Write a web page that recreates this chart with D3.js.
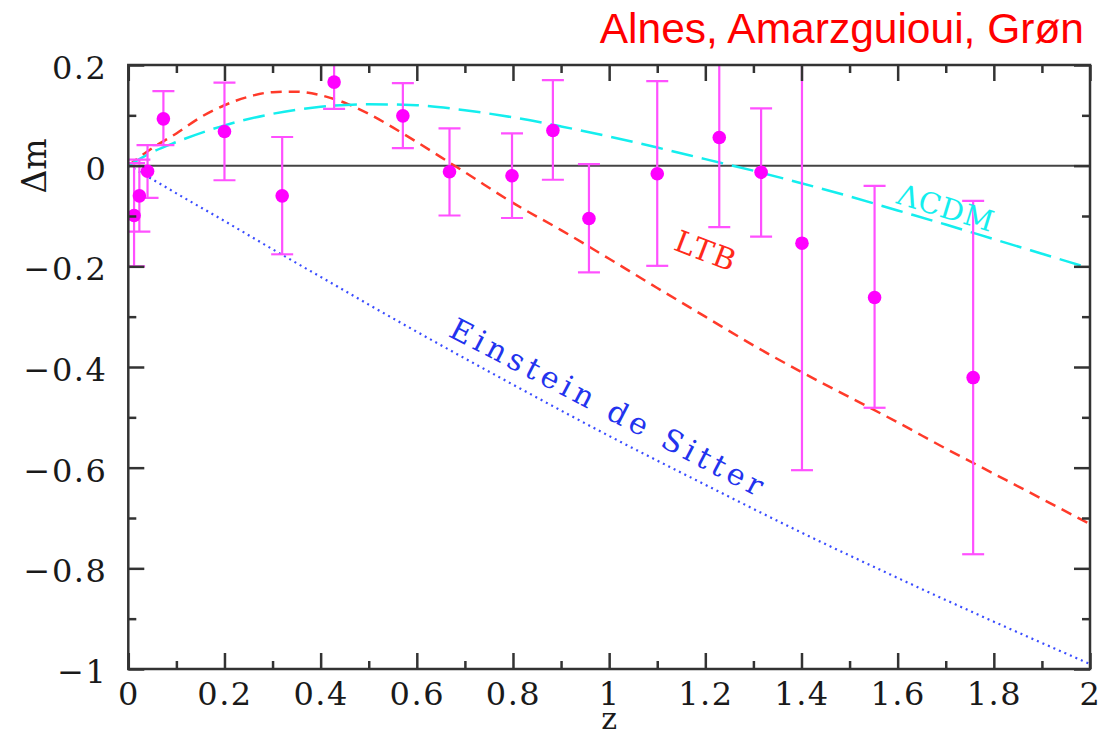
<!DOCTYPE html>
<html>
<head>
<meta charset="utf-8">
<script src="https://cdn.jsdelivr.net/npm/d3@7"></script>
<style>
  body { margin: 0; background: #fff; }
  svg { display: block; }
</style>
</head>
<body>
<svg id="drawing_region"></svg>
<script>
// supernova points: redshift, Δm, and error bar ends
const zData   = [0.012, 0.023, 0.040, 0.073, 0.200, 0.320, 0.428, 0.571, 0.668, 0.798, 0.883, 0.958, 1.100, 1.229, 1.316, 1.401, 1.552, 1.757];
const dmData  = [-0.099, -0.060, -0.011, 0.093, 0.068, -0.060, 0.166, 0.099, -0.012, -0.020, 0.070, -0.105, -0.016, 0.056, -0.013, -0.154, -0.262, -0.421];
const errHigh = [0.005, 0.012, 0.041, 0.148, 0.165, 0.057, 0.230, 0.164, 0.074, 0.064, 0.170, 0.003, 0.168, 0.260, 0.114, 0.300, -0.040, -0.070];
const errLow  = [-0.200, -0.131, -0.064, 0.041, -0.029, -0.176, 0.113, 0.035, -0.099, -0.104, -0.028, -0.212, -0.199, -0.122, -0.141, -0.605, -0.481, -0.772];

// model curves
const zLcdm  = [0, 0.05, 0.1, 0.2, 0.3, 0.4, 0.5, 0.6, 0.7, 0.8, 0.9, 1.0, 1.1, 1.2, 1.3, 1.4, 1.5, 1.6, 1.7, 1.8, 1.9, 2.0];
const dmLcdm = [0, 0.027, 0.047, 0.080, 0.103, 0.117, 0.122, 0.120, 0.110, 0.096, 0.078, 0.058, 0.036, 0.013, -0.010, -0.035, -0.061, -0.089, -0.117, -0.146, -0.175, -0.204];

const zLtb  = [0, 0.05, 0.1, 0.15, 0.2, 0.25, 0.3, 0.35, 0.4, 0.45, 0.5, 0.55, 0.6, 0.65, 0.7, 0.8, 0.9, 1.0, 1.1, 1.2, 1.3, 1.4, 1.5, 1.6, 1.7, 1.8, 1.9, 2.0];
const dmLtb = [0, 0.035, 0.064, 0.096, 0.120, 0.137, 0.146, 0.147, 0.140, 0.125, 0.103, 0.076, 0.047, 0.017, -0.013, -0.074, -0.128, -0.185, -0.243, -0.300, -0.357, -0.410, -0.460, -0.510, -0.562, -0.612, -0.662, -0.712];

const zEds  = [0, 0.05, 0.1, 0.2, 0.3, 0.4, 0.5, 0.6, 0.8, 1.0, 1.2, 1.4, 1.6, 1.8, 2.0];
const dmEds = [0, -0.027, -0.055, -0.110, -0.166, -0.221, -0.276, -0.330, -0.435, -0.537, -0.634, -0.729, -0.819, -0.906, -0.990];

// ticks
const xMajor = [0, 0.2, 0.4, 0.6, 0.8, 1, 1.2, 1.4, 1.6, 1.8, 2];
const xMinor = [0.1, 0.3, 0.5, 0.7, 0.9, 1.1, 1.3, 1.5, 1.7, 1.9];
const xTickLabels = ["0", "0.2", "0.4", "0.6", "0.8", "1", "1.2", "1.4", "1.6", "1.8", "2"];
const yMajor = [0.2, 0, -0.2, -0.4, -0.6, -0.8, -1];
const yMinor = [0.1, -0.1, -0.3, -0.5, -0.7, -0.9];
const yTickLabels = ["0.2", "0", "\u22120.2", "\u22120.4", "\u22120.6", "\u22120.8", "\u22121"];

const W = 1117, H = 736;
const m = { left: 128.3, right: 1090, top: 65, bottom: 669 };
const serif = "'DejaVu Serif', serif";

const svg = d3.select('#drawing_region')
    .attr('width', W)
    .attr('height', H);

const x = d3.scaleLinear().domain([0, 2]).range([m.left, m.right]);
const y = d3.scaleLinear().domain([-1, 0.2]).range([m.bottom, m.top]);

svg.append('defs').append('clipPath').attr('id', 'plotclip')
  .append('rect')
    .attr('x', m.left).attr('y', m.top)
    .attr('width', m.right - m.left).attr('height', m.bottom - m.top);

// zero line
svg.append('line')
    .attr('x1', x(0)).attr('x2', x(2))
    .attr('y1', y(0)).attr('y2', y(0))
    .attr('stroke', '#444')
    .attr('stroke-width', 2);

const plot = svg.append('g').attr('clip-path', 'url(#plotclip)');

// curves
const curves = [
  { z: zEds,  dm: dmEds,  color: '#3a4cff', dash: '2,4',  width: 2.2 },
  { z: zLtb,  dm: dmLtb,  color: '#ff3a2a', dash: '11,7', width: 2.5 },
  { z: zLcdm, dm: dmLcdm, color: '#14eeee', dash: '22,9', width: 2.5 }
];
const line = d3.line()
    .x(d => x(d[0]))
    .y(d => y(d[1]))
    .curve(d3.curveMonotoneX);

plot.selectAll('path.model')
  .data(curves)
  .enter()
  .append('path')
    .attr('class', 'model')
    .attr('d', c => line(c.z.map((z, i) => [z, c.dm[i]])))
    .attr('fill', 'none')
    .attr('stroke', c => c.color)
    .attr('stroke-width', c => c.width)
    .attr('stroke-dasharray', c => c.dash);

// error bars
const points = zData.map((z, i) => ({ z: z, dm: dmData[i], hi: errHigh[i], lo: errLow[i] }));
const cap = 11;
const bars = plot.selectAll('g.bar')
  .data(points)
  .enter()
  .append('g')
    .attr('class', 'bar')
    .attr('stroke', '#ff50ff')
    .attr('stroke-width', 2.2);
bars.append('line')
    .attr('x1', d => x(d.z)).attr('x2', d => x(d.z))
    .attr('y1', d => y(d.hi)).attr('y2', d => y(d.lo));
bars.append('line')
    .attr('x1', d => x(d.z) - cap).attr('x2', d => x(d.z) + cap)
    .attr('y1', d => y(d.hi)).attr('y2', d => y(d.hi));
bars.append('line')
    .attr('x1', d => x(d.z) - cap).attr('x2', d => x(d.z) + cap)
    .attr('y1', d => y(d.lo)).attr('y2', d => y(d.lo));

plot.selectAll('circle')
  .data(points)
  .enter()
  .append('circle')
    .attr('cx', d => x(d.z))
    .attr('cy', d => y(d.dm))
    .attr('r', 6.8)
    .attr('fill', '#ff00ff');

// axes: ticks inward on all four sides
function styleAxis(g) {
  g.select('.domain').remove();
  g.selectAll('.tick line').attr('stroke', '#333').attr('stroke-width', 2.5);
  g.selectAll('.tick text')
    .attr('fill', '#1a1a1a')
    .attr('font-family', serif)
    .attr('font-size', 32)
    .attr('letter-spacing', 1.5);
}

svg.append('g')
    .attr('transform', `translate(0,${m.bottom})`)
    .call(d3.axisBottom(x).tickValues(xMajor).tickSize(-16).tickPadding(13)
      .tickFormat((d, i) => xTickLabels[i]))
    .call(styleAxis);
svg.append('g')
    .attr('transform', `translate(0,${m.bottom})`)
    .call(d3.axisBottom(x).tickValues(xMinor).tickSize(-8).tickFormat(''))
    .call(styleAxis);
svg.append('g')
    .attr('transform', `translate(0,${m.top})`)
    .call(d3.axisTop(x).tickValues(xMajor).tickSize(-16).tickFormat(''))
    .call(styleAxis);
svg.append('g')
    .attr('transform', `translate(0,${m.top})`)
    .call(d3.axisTop(x).tickValues(xMinor).tickSize(-8).tickFormat(''))
    .call(styleAxis);

svg.append('g')
    .attr('transform', `translate(${m.left},0)`)
    .call(d3.axisLeft(y).tickValues(yMajor).tickSize(-16).tickPadding(21)
      .tickFormat((d, i) => yTickLabels[i]))
    .call(styleAxis)
    .selectAll('.tick text').attr('dy', '0.42em');
svg.append('g')
    .attr('transform', `translate(${m.left},0)`)
    .call(d3.axisLeft(y).tickValues(yMinor).tickSize(-8).tickFormat(''))
    .call(styleAxis);
svg.append('g')
    .attr('transform', `translate(${m.right},0)`)
    .call(d3.axisRight(y).tickValues(yMajor).tickSize(-16).tickFormat(''))
    .call(styleAxis);
svg.append('g')
    .attr('transform', `translate(${m.right},0)`)
    .call(d3.axisRight(y).tickValues(yMinor).tickSize(-8).tickFormat(''))
    .call(styleAxis);

// frame
svg.append('rect')
    .attr('x', m.left).attr('y', m.top)
    .attr('width', m.right - m.left).attr('height', m.bottom - m.top)
    .attr('fill', 'none')
    .attr('stroke', '#333')
    .attr('stroke-width', 2.5);

// axis titles
svg.append('text')
    .attr('x', x(1))
    .attr('y', 729)
    .attr('text-anchor', 'middle')
    .attr('font-family', serif)
    .attr('font-size', 30)
    .attr('fill', '#1a1a1a')
    .text('z');
svg.append('text')
    .attr('transform', 'translate(46,166) rotate(-90)')
    .attr('text-anchor', 'middle')
    .attr('font-family', serif)
    .attr('font-size', 33)
    .attr('fill', '#1a1a1a')
    .text('\u0394m');

// curve labels
const labels = [
  { text: '\u039BCDM', cx: 946, cy: 208, angle: 17, color: '#14eeee', size: 29, spacing: 1 },
  { text: 'LTB', cx: 706, cy: 251, angle: 21, color: '#ff2a1a', size: 30, spacing: 1.5 },
  { text: 'Einstein de Sitter', cx: 609, cy: 408, angle: 27.5, color: '#2233ee', size: 30, spacing: 4.8 }
];
svg.selectAll('text.curvelabel')
  .data(labels)
  .enter()
  .append('text')
    .attr('class', 'curvelabel')
    .attr('transform', d => `translate(${d.cx},${d.cy}) rotate(${d.angle})`)
    .attr('text-anchor', 'middle')
    .attr('dy', '0.35em')
    .attr('font-family', serif)
    .attr('font-size', d => d.size)
    .attr('letter-spacing', d => d.spacing)
    .attr('fill', d => d.color)
    .text(d => d.text);

// title
svg.append('text')
    .attr('x', 1084)
    .attr('y', 43)
    .attr('text-anchor', 'end')
    .attr('font-family', "'Liberation Sans', Arial, sans-serif")
    .attr('font-size', 42.5)
    .attr('fill', '#ff0000')
    .text('Alnes, Amarzguioui, Gr\u00f8n');
</script>
</body>
</html>
